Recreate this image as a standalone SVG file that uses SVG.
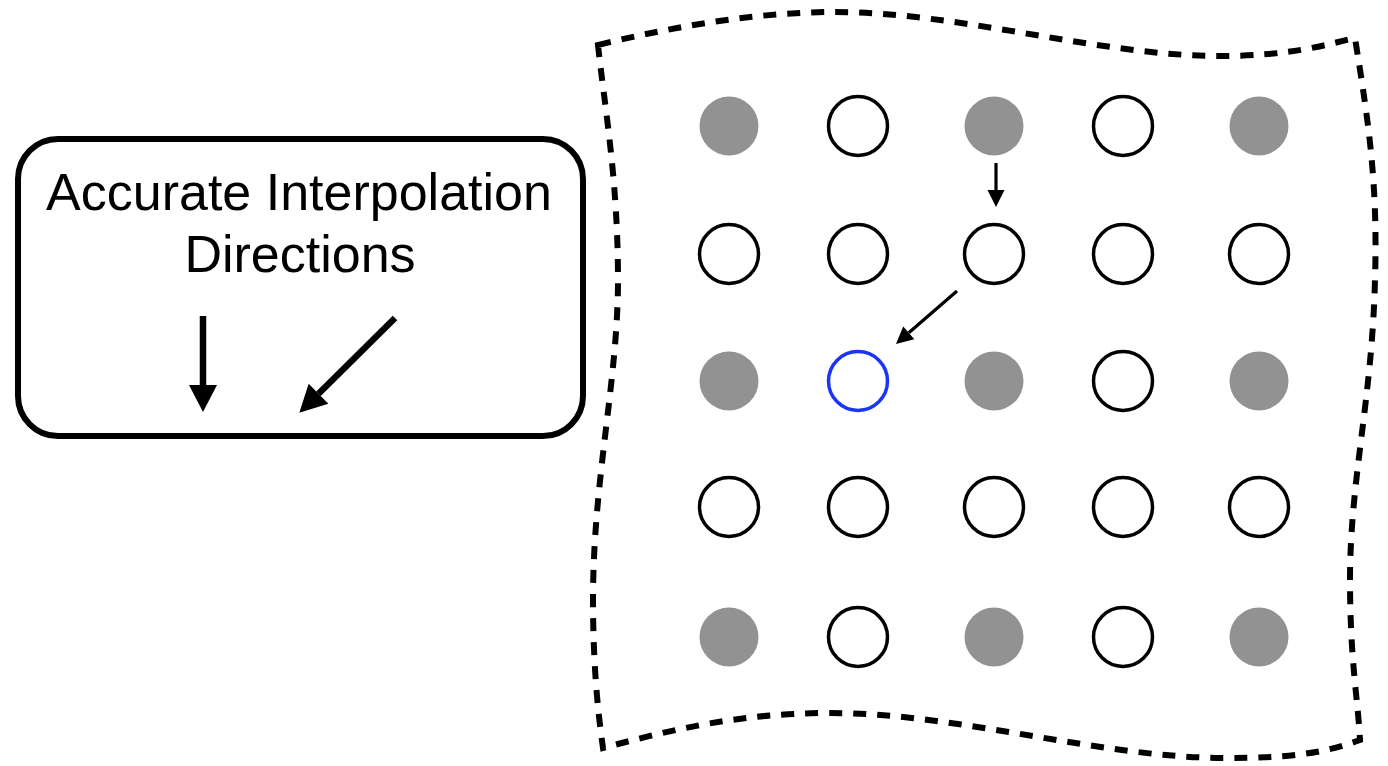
<svg xmlns="http://www.w3.org/2000/svg" width="1388" height="766" viewBox="0 0 1388 766">
  <style>
    .bg { fill: #ffffff; }
    .frame { fill: none; stroke: #000; stroke-width: 6; stroke-dasharray: 13 11; }
    .box { fill: #fff; stroke: #000; stroke-width: 6; }
    .label { font-family: "Liberation Sans", Arial, Helvetica, sans-serif; font-size: 52px; fill: #000; text-anchor: middle; }
    .known { fill: #929292; stroke: none; }
    .unknown { fill: #fff; stroke: #000; stroke-width: 3.5; }
    .target { fill: #fff; stroke: #1a35f5; stroke-width: 3.5; }
    .big { stroke: #000; stroke-width: 6.5; fill: none; }
    .small { stroke: #000; stroke-width: 3.2; fill: none; }
  </style>
  <defs>
    <marker id="headBig" markerUnits="userSpaceOnUse" viewBox="0 -14 27 28" markerWidth="27" markerHeight="28" refX="0" refY="0" orient="auto" overflow="visible">
      <path d="M0,-14 L27,0 L0,14 Z" fill="#000"/>
    </marker>
    <marker id="headSmall" markerUnits="userSpaceOnUse" viewBox="0 -8.5 17 17" markerWidth="17" markerHeight="17" refX="0" refY="0" orient="auto" overflow="visible">
      <path d="M0,-8.5 L17,0 L0,8.5 Z" fill="#000"/>
    </marker>
  </defs>
  <rect class="bg" x="0" y="0" width="1388" height="766"/>

  <g id="sheet">
    <path class="frame" d="M598,45 C680,25 760,12 835,12 C960,12 1100,56 1220,56 C1290,56 1325,45 1355,38
      C1368,120 1378,180 1375,280 C1372,400 1350,480 1350,580 C1350,660 1358,700 1360,740
      C1320,755 1280,758 1226,758 C1100,758 960,713 830,713 C740,713 670,730 603,748
      C596,700 593,650 593,600 C593,480 618,380 618,280 C618,180 605,110 598,45 Z"/>
  </g>

  <g id="legend-box">
    <rect class="box" x="18" y="139" width="565" height="297" rx="40" ry="40"/>
    <text class="label" x="299" y="210">Accurate Interpolation</text>
    <text class="label" x="300" y="272">Directions</text>
  </g>

  <g id="grid">
    <g id="n-r1c1"><circle class="known" cx="729" cy="126" r="29.5"/></g>
    <g id="n-r1c2"><circle class="unknown" cx="858" cy="126" r="29.5"/></g>
    <g id="n-r1c3"><circle class="known" cx="994" cy="126" r="29.5"/></g>
    <g id="n-r1c4"><circle class="unknown" cx="1123" cy="126" r="29.5"/></g>
    <g id="n-r1c5"><circle class="known" cx="1259" cy="126" r="29.5"/></g>

    <g id="n-r2c1"><circle class="unknown" cx="729" cy="254" r="29.5"/></g>
    <g id="n-r2c2"><circle class="unknown" cx="858" cy="254" r="29.5"/></g>
    <g id="n-r2c3"><circle class="unknown" cx="994" cy="254" r="29.5"/></g>
    <g id="n-r2c4"><circle class="unknown" cx="1123" cy="254" r="29.5"/></g>
    <g id="n-r2c5"><circle class="unknown" cx="1259" cy="254" r="29.5"/></g>

    <g id="n-r3c1"><circle class="known" cx="729" cy="381" r="29.5"/></g>
    <g id="n-r3c2"><circle class="target" cx="858" cy="381" r="29.5"/></g>
    <g id="n-r3c3"><circle class="known" cx="994" cy="381" r="29.5"/></g>
    <g id="n-r3c4"><circle class="unknown" cx="1123" cy="381" r="29.5"/></g>
    <g id="n-r3c5"><circle class="known" cx="1259" cy="381" r="29.5"/></g>

    <g id="n-r4c1"><circle class="unknown" cx="729" cy="507" r="29.5"/></g>
    <g id="n-r4c2"><circle class="unknown" cx="858" cy="507" r="29.5"/></g>
    <g id="n-r4c3"><circle class="unknown" cx="994" cy="507" r="29.5"/></g>
    <g id="n-r4c4"><circle class="unknown" cx="1123" cy="507" r="29.5"/></g>
    <g id="n-r4c5"><circle class="unknown" cx="1259" cy="507" r="29.5"/></g>

    <g id="n-r5c1"><circle class="known" cx="729" cy="637" r="29.5"/></g>
    <g id="n-r5c2"><circle class="unknown" cx="858" cy="637" r="29.5"/></g>
    <g id="n-r5c3"><circle class="known" cx="994" cy="637" r="29.5"/></g>
    <g id="n-r5c4"><circle class="unknown" cx="1123" cy="637" r="29.5"/></g>
    <g id="n-r5c5"><circle class="known" cx="1259" cy="637" r="29.5"/></g>
  </g>

  <g id="connectors">
    <line class="big" x1="203" y1="316" x2="203" y2="385" marker-end="url(#headBig)"/>
    <line class="big" x1="395" y1="318" x2="318.5" y2="393.7" marker-end="url(#headBig)"/>
    <line class="small" x1="996" y1="163" x2="996" y2="190" marker-end="url(#headSmall)"/>
    <line class="small" x1="957" y1="291" x2="908.8" y2="332.8" marker-end="url(#headSmall)"/>
  </g>
</svg>
